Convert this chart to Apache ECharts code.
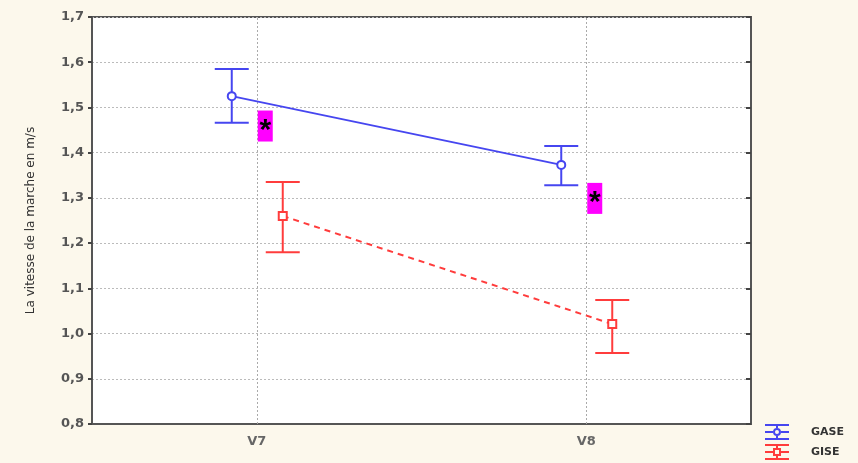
<!DOCTYPE html>
<html><head><meta charset="utf-8">
<script src="https://cdn.jsdelivr.net/npm/echarts@6/dist/echarts.min.js"></script>
<style>html,body{margin:0;padding:0;background:#fcf8ec;}#c{width:858px;height:463px;}</style>
</head><body><div id="c"></div>
<script>
const categories = ['V7', 'V8'];
const yTicks = [0.8, 0.9, 1.0, 1.1, 1.2, 1.3, 1.4, 1.5, 1.6, 1.7];
const gaseMean = [1.525, 1.373];
const gaseLow  = [1.466, 1.328];
const gaseHigh = [1.585, 1.415];
const giseMean = [1.26, 1.021];
const giseLow  = [1.18, 0.957];
const giseHigh = [1.335, 1.074];
const annotValues = [1.46, 1.30];

const BLUE = '#4646f0', RED = '#ff3c3c';
const FONT = '"DejaVu Sans", Verdana, sans-serif';

function build(mean, lo, hi) { return categories.map((c, i) => [i, mean[i], lo[i], hi[i]]); }

function makeRender(offset, color, marker, dashed) {
  return function (params, api) {
    const i = params.dataIndexInside;
    const p = api.coord([api.value(0), api.value(1)]);
    const pl = api.coord([api.value(0), api.value(2)]);
    const ph = api.coord([api.value(0), api.value(3)]);
    const cx = p[0] + offset, cap = 17;
    const st = { stroke: color, lineWidth: 2 };
    const children = [];
    if (i < params.dataInsideLength - 1) {
      const q = api.coord([api.value(0, i + 1), api.value(1, i + 1)]);
      children.push({ type: 'line', shape: { x1: cx, y1: p[1], x2: q[0] + offset, y2: q[1] },
        style: Object.assign({ lineDash: dashed ? [6, 5] : null }, st) });
    }
    children.push({ type: 'line', shape: { x1: cx, y1: ph[1], x2: cx, y2: pl[1] }, style: st });
    children.push({ type: 'line', shape: { x1: cx - cap, y1: ph[1], x2: cx + cap, y2: ph[1] }, style: st });
    children.push({ type: 'line', shape: { x1: cx - cap, y1: pl[1], x2: cx + cap, y2: pl[1] }, style: st });
    if (marker === 'circle') {
      children.push({ type: 'circle', shape: { cx: cx, cy: p[1], r: 4 }, style: { fill: '#fff', stroke: color, lineWidth: 2 } });
    } else {
      children.push({ type: 'rect', shape: { x: cx - 4, y: p[1] - 4, width: 8, height: 8 }, style: { fill: '#fff', stroke: color, lineWidth: 2 } });
    }
    return { type: 'group', children: children };
  };
}

function renderAnnot(params, api) {
  const p = api.coord([api.value(0), api.value(1)]);
  const x = p[0] + 1;
  return { type: 'group', children: [
    { type: 'rect', shape: { x: x, y: p[1] - 15, width: 15, height: 31 }, style: { fill: '#ff00ff' } },
    { type: 'text', x: x + 7.5, y: p[1] + 5, style: { text: '*', fill: '#000', font: 'bold 30px "Liberation Sans", Arial', align: 'center', verticalAlign: 'middle' } }
  ] };
}

const iconGase = 'path://M0,0H24V2H0Z M0,14H24V16H0Z M0,7H8V9H0Z M16,7H24V9H16Z M11,2H13V4H11Z M11,12H13V14H11Z M12,4A4,4 0 1,0 12.01,4Z M12,6A2,2 0 1,1 11.99,6Z';
const iconGise = 'path://M0,0H24V2H0Z M0,14H24V16H0Z M0,7H8V9H0Z M16,7H24V9H16Z M11,2H13V4H11Z M11,12H13V14H11Z M8,4H16V12H8Z M10,6V10H14V6Z';

const chart = echarts.init(document.getElementById('c'));
chart.setOption({
  backgroundColor: '#fcf8ec',
  animation: false,
  grid: { left: 92, right: 107, top: 17, bottom: 39, show: true, backgroundColor: '#ffffff', borderColor: '#555', borderWidth: 2 },
  legend: {
    data: [{ name: 'GASE', icon: iconGase }, { name: 'GISE', icon: iconGise }],
    orient: 'vertical', left: 765, top: 424, padding: 0, itemWidth: 26, itemHeight: 16, itemGap: 4,
    textStyle: { fontFamily: FONT, fontWeight: 'bold', fontSize: 11, color: '#333', padding: [0, 0, 0, 16] }
  },
  xAxis: {
    type: 'category', data: categories, boundaryGap: true,
    axisLine: { lineStyle: { color: '#555', width: 2 } },
    axisTick: { alignWithLabel: true, inside: true, length: 3, lineStyle: { color: '#333', width: 2 } },
    axisLabel: { margin: 11, fontFamily: FONT, fontWeight: 'bold', fontSize: 13, color: '#666' },
    splitLine: { show: false }
  },
  yAxis: [{
    type: 'value', min: 0.8, max: 1.7, interval: 0.1,
    name: 'La vitesse de la marche en m/s', nameLocation: 'middle', nameGap: 55,
    nameTextStyle: { fontFamily: FONT, fontSize: 12, color: '#333' },
    axisLine: { show: true, lineStyle: { color: '#555', width: 2 } },
    axisTick: { show: true, length: 4, lineStyle: { color: '#444', width: 2 } },
    axisLabel: { margin: 8, fontFamily: FONT, fontWeight: 'bold', fontSize: 13, color: '#555',
      formatter: v => v.toFixed(1).replace('.', ',') },
    splitLine: { show: true, lineStyle: { color: '#bbb', type: [2, 2], width: 1 } }
  }, {
    type: 'value', min: 0.8, max: 1.7, interval: 0.1, position: 'right',
    axisLine: { show: true, lineStyle: { color: '#555', width: 2 } },
    axisTick: { show: true, inside: true, length: 5, lineStyle: { color: '#444', width: 2 } },
    axisLabel: { show: false }, splitLine: { show: false }
  }],
  series: [
    {
      name: 'GASE', type: 'custom', itemStyle: { color: BLUE }, renderItem: makeRender(-25, BLUE, 'circle', false),
      data: build(gaseMean, gaseLow, gaseHigh), z: 5,
      markLine: { silent: true, symbol: 'none', label: { show: false },
        lineStyle: { color: '#aaa', type: [2, 2], width: 1 },
        data: categories.map(c => ({ xAxis: c })) }
    },
    {
      name: 'GISE', type: 'custom', itemStyle: { color: RED }, renderItem: makeRender(26, RED, 'square', true),
      data: build(giseMean, giseLow, giseHigh), z: 5
    },
    {
      name: 'annot', type: 'custom', renderItem: renderAnnot, z: 6,
      data: categories.map((c, i) => [i, annotValues[i]])
    }
  ]
});
</script></body></html>
